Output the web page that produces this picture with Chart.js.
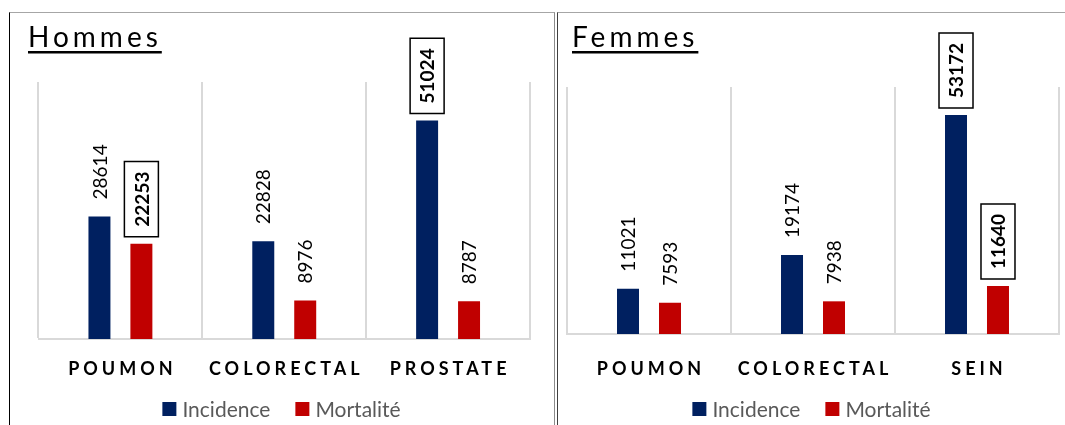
<!DOCTYPE html>
<html><head><meta charset="utf-8">
<script src="https://cdn.jsdelivr.net/npm/chart.js@4.4.0/dist/chart.umd.min.js"></script>
<style>
html,body{margin:0;padding:0;background:#fff;width:1065px;height:425px;overflow:hidden;position:relative;}
.panel{position:absolute;top:12px;height:413px;box-sizing:border-box;border-top:1px solid #a6a6a6;}
#pl{left:9px;width:546px;border-left:1px solid #000;border-right:1px solid #8c8c8c;}
#pr{left:557px;width:508px;border-left:1px solid #404040;}
canvas{position:absolute;}
#cl{left:10px;top:13px;}
#cr{left:558px;top:13px;}
</style>
</head><body>
<div class="panel" id="pl"></div>
<div class="panel" id="pr"></div>
<canvas id="cl" width="543" height="412"></canvas>
<canvas id="cr" width="507" height="412"></canvas>
<script>
// ---- data ----
const seriesNames = ['Incidence', 'Mortalité'];
const hommesCategories = ['POUMON', 'COLORECTAL', 'PROSTATE'];
const hommesIncidence = [28614, 22828, 51024];
const hommesMortalite = [22253, 8976, 8787];
const hommesIncidenceBoxed = [false, false, true];
const hommesMortaliteBoxed = [true, false, false];

const femmesCategories = ['POUMON', 'COLORECTAL', 'SEIN'];
const femmesIncidence = [11021, 19174, 53172];
const femmesMortalite = [7593, 7938, 11640];
const femmesIncidenceBoxed = [false, false, true];
const femmesMortaliteBoxed = [false, false, true];

const colIncidence = '#002060';
const colMortalite = '#C00000';
const FONT = 'Lato, "Open Sans", sans-serif';

const panelText = {
  id: 'panelText',
  afterDatasetsDraw(chart) {
    const ctx = chart.ctx;
    chart.data.datasets.forEach((ds, di) => {
      const meta = chart.getDatasetMeta(di);
      meta.data.forEach((bar, i) => {
        const txt = String(ds.data[i]);
        const boxed = ds.boxed[i];
        ctx.save();
        ctx.translate(bar.x, bar.y - 17);
        ctx.rotate(-Math.PI / 2);
        ctx.font = (boxed ? 'bold ' : '') + '19px ' + FONT;
        ctx.textAlign = 'left';
        ctx.textBaseline = 'middle';
        const tw = ctx.measureText(txt).width;
        if (boxed) {
          ctx.fillStyle = '#fff';
          ctx.strokeStyle = '#000';
          ctx.lineWidth = 1.5;
          ctx.beginPath();
          ctx.rect(-10, -17, tw + 20, 34);
          ctx.fill();
          ctx.stroke();
        }
        ctx.fillStyle = '#000';
        ctx.fillText(txt, 0, 1);
        ctx.restore();
      });
    });
  },
  afterDraw(chart, args, opts) {
    const ctx = chart.ctx;
    const xs = chart.scales.x;
    // title
    ctx.save();
    ctx.font = '28px ' + FONT;
    ctx.letterSpacing = '4px';
    ctx.fillStyle = '#000';
    ctx.textAlign = 'left';
    ctx.textBaseline = 'alphabetic';
    ctx.fillText(opts.title, opts.titleX, 34);
    const w = ctx.measureText(opts.title).width;
    ctx.fillRect(opts.titleX, 38, w, 2.5);
    ctx.restore();
    // category labels
    ctx.save();
    ctx.font = 'bold 18px ' + FONT;
    ctx.letterSpacing = '4px';
    ctx.fillStyle = '#000';
    ctx.textAlign = 'left';
    ctx.textBaseline = 'middle';
    chart.data.labels.forEach((lab, i) => {
      const cx = xs.getPixelForValue(i);
      const tw = ctx.measureText(lab).width - 4;
      ctx.fillText(lab, cx - tw / 2, 356);
    });
    ctx.restore();
    // legend
    ctx.save();
    ctx.font = '21px ' + FONT;
    ctx.textAlign = 'left';
    ctx.textBaseline = 'middle';
    const items = chart.data.datasets.map(d => ({ label: d.label, color: d.backgroundColor, w: ctx.measureText(d.label).width }));
    const total = items.reduce((s, it) => s + 14 + 6 + it.w, 0) + 25 * (items.length - 1);
    let x = chart.width / 2 - total / 2;
    const ly = 396;
    items.forEach(it => {
      ctx.fillStyle = it.color;
      ctx.fillRect(x, ly - 7, 14, 14);
      x += 20;
      ctx.fillStyle = '#595959';
      ctx.fillText(it.label, x, ly + 1);
      x += it.w + 25;
    });
    ctx.restore();
  }
};

function makeChart(id, cats, inc, mort, incBox, mortBox, title, titleX, pad) {
  return new Chart(document.getElementById(id), {
    type: 'bar',
    data: {
      labels: cats,
      datasets: [
        { label: seriesNames[0], data: inc, boxed: incBox, backgroundColor: colIncidence },
        { label: seriesNames[1], data: mort, boxed: mortBox, backgroundColor: colMortalite }
      ]
    },
    options: {
      responsive: false,
      animation: false,
      devicePixelRatio: 1,
      layout: { padding: pad },
      categoryPercentage: 0.512,
      barPercentage: 0.524,
      plugins: {
        legend: { display: false },
        title: { display: false },
        tooltip: { enabled: false },
        panelText: { title: title, titleX: titleX }
      },
      scales: {
        x: {
          grid: { color: '#d9d9d9', lineWidth: 2, drawTicks: false, offset: true },
          border: { display: true, color: '#d9d9d9', width: 2 },
          ticks: { display: false }
        },
        y: { display: false, min: 0, max: 60000 }
      }
    },
    plugins: [panelText]
  });
}

makeChart('cl', hommesCategories, hommesIncidence, hommesMortalite, hommesIncidenceBoxed, hommesMortaliteBoxed,
  'Hommes', 18, { left: 28.5, right: 23, top: 69, bottom: 86 });
makeChart('cr', femmesCategories, femmesIncidence, femmesMortalite, femmesIncidenceBoxed, femmesMortaliteBoxed,
  'Femmes', 14, { left: 9, right: 6, top: 74, bottom: 91 });
</script>
</body></html>
